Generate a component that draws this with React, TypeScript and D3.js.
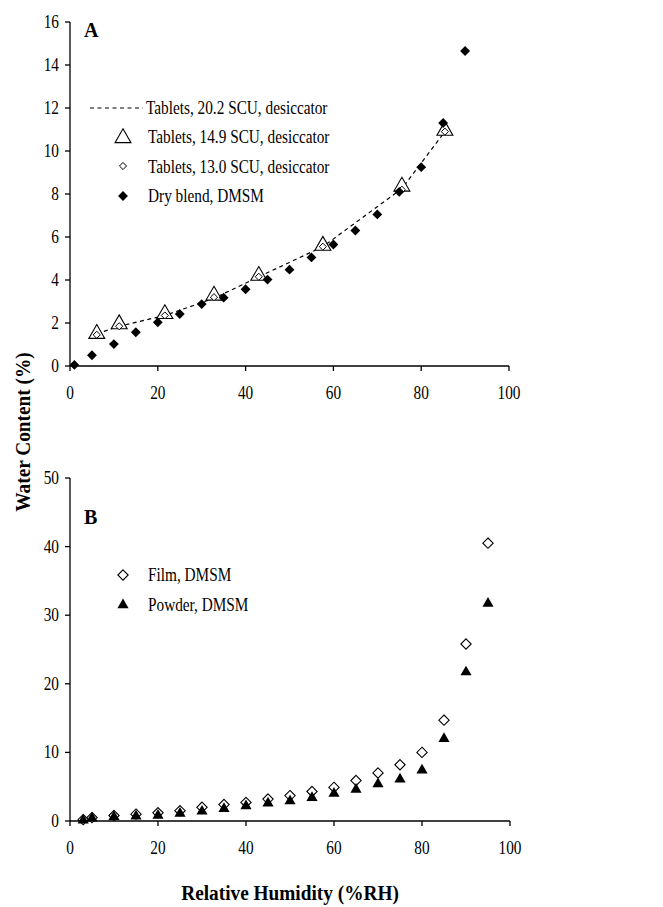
import React, { useEffect, useRef } from 'react';
import * as d3 from 'd3';

// Panel A: water content (%) vs relative humidity (%RH)
const tablets202 = [
    { rh: 6.1, wc: 1.5 }, { rh: 11.2, wc: 1.85 }, { rh: 21.6, wc: 2.35 }, { rh: 32.8, wc: 3.15 },
    { rh: 43, wc: 4.15 }, { rh: 57.6, wc: 5.55 }, { rh: 75.6, wc: 8.25 }, { rh: 85.4, wc: 10.9 }
];
const tablets149 = [
    { rh: 6.1, wc: 1.5 }, { rh: 11.2, wc: 1.95 }, { rh: 21.6, wc: 2.42 }, { rh: 32.8, wc: 3.28 },
    { rh: 43, wc: 4.2 }, { rh: 57.6, wc: 5.6 }, { rh: 75.6, wc: 8.35 }, { rh: 85.4, wc: 10.95 }
];
const tablets130 = [
    { rh: 6.1, wc: 1.45 }, { rh: 11.2, wc: 1.85 }, { rh: 21.6, wc: 2.35 }, { rh: 32.8, wc: 3.2 },
    { rh: 43, wc: 4.15 }, { rh: 57.6, wc: 5.55 }, { rh: 75.6, wc: 8.2 }, { rh: 85.4, wc: 10.9 }
];
const dryBlend = [
    { rh: 1, wc: 0.05 }, { rh: 5, wc: 0.5 }, { rh: 10, wc: 1.02 }, { rh: 15, wc: 1.57 },
    { rh: 20, wc: 2.03 }, { rh: 25, wc: 2.42 }, { rh: 30, wc: 2.88 }, { rh: 35, wc: 3.18 },
    { rh: 40, wc: 3.57 }, { rh: 45, wc: 4.02 }, { rh: 50, wc: 4.48 }, { rh: 55, wc: 5.05 },
    { rh: 60, wc: 5.65 }, { rh: 65, wc: 6.3 }, { rh: 70, wc: 7.05 }, { rh: 75, wc: 8.1 },
    { rh: 80, wc: 9.25 }, { rh: 85, wc: 11.3 }, { rh: 90, wc: 14.65 }
];

// Panel B
const bRH = [3, 5, 10, 15, 20, 25, 30, 35, 40, 45, 50, 55, 60, 65, 70, 75, 80, 85, 90, 95];
const filmWC = [0.2, 0.5, 0.8, 1.0, 1.2, 1.5, 2.0, 2.4, 2.7, 3.2, 3.7, 4.3, 4.9, 5.9, 7.0, 8.2, 10.0, 14.7, 25.8, 40.5];
const powderWC = [0.1, 0.4, 0.6, 0.7, 0.8, 1.1, 1.4, 1.8, 2.2, 2.6, 2.9, 3.4, 4.0, 4.6, 5.4, 6.1, 7.4, 12.0, 21.7, 31.7];

const xTicks = [0, 20, 40, 60, 80, 100];
const yTicksA = [0, 2, 4, 6, 8, 10, 12, 14, 16];
const yTicksB = [0, 10, 20, 30, 40, 50];

const legendA = [
    'Tablets, 20.2 SCU, desiccator',
    'Tablets, 14.9 SCU, desiccator',
    'Tablets, 13.0 SCU, desiccator',
    'Dry blend, DMSM'
];
const legendB = ['Film, DMSM', 'Powder, DMSM'];

const FONT = '"Liberation Serif", "Times New Roman", serif';

// condensed, tall-looking serif text
function label(g, x, y, txt, anchor = 'start') {
    return g.append('text')
        .attr('transform', `translate(${x}, ${y}) scale(0.85, 1)`)
        .attr('text-anchor', anchor)
        .style('font-family', FONT)
        .style('font-size', '18px')
        .text(txt);
}

function WaterChart() {
    const ref = useRef<SVGSVGElement>(null);

    useEffect(() => {
        drawChart();
    });

    function drawAxes(g, x, y, ticksY) {
        const [x0, x1] = x.range();
        const [y0, y1] = y.range();
        g.append('line')
            .attr('x1', x0).attr('x2', x1).attr('y1', y0).attr('y2', y0)
            .attr('stroke', '#000').attr('stroke-width', 1.3);
        g.append('line')
            .attr('x1', x0).attr('x2', x0).attr('y1', y0).attr('y2', y1)
            .attr('stroke', '#000').attr('stroke-width', 1.3);

        g.selectAll()
            .data(xTicks)
            .enter()
            .append('line')
            .attr('x1', d => x(d)).attr('x2', d => x(d))
            .attr('y1', y0).attr('y2', y0 + 5)
            .attr('stroke', '#000').attr('stroke-width', 1.3);
        xTicks.forEach(d => label(g, x(d), y0 + 33, d, 'middle'));

        g.selectAll()
            .data(ticksY)
            .enter()
            .append('line')
            .attr('x1', x0 - 5).attr('x2', x0)
            .attr('y1', d => y(d)).attr('y2', d => y(d))
            .attr('stroke', '#000').attr('stroke-width', 1.3);
        ticksY.forEach(d => label(g, x0 - 11, y(d) + 6, d, 'end'));
    }

    function drawChart() {
        const svg = d3.select(ref.current);
        svg.selectAll('*').remove();

        const xA = d3.scaleLinear().domain([0, 100]).range([70, 509]);
        const yA = d3.scaleLinear().domain([0, 16]).range([366, 22]);
        const xB = d3.scaleLinear().domain([0, 100]).range([70, 510]);
        const yB = d3.scaleLinear().domain([0, 50]).range([821, 478]);

        const gA = svg.append('g');
        const gB = svg.append('g');
        drawAxes(gA, xA, yA, yTicksA);
        drawAxes(gB, xB, yB, yTicksB);

        const tri = d3.symbol(d3.symbolTriangle, 110);
        const smallDia = d3.symbol(d3.symbolDiamond2, 32);
        const fillDia = d3.symbol(d3.symbolDiamond2, 62);
        const openDia = d3.symbol(d3.symbolDiamond2, 68);
        const fillTri = d3.symbol(d3.symbolTriangle, 54);

        // Panel A series
        const line = d3.line().x(d => xA(d.rh)).y(d => yA(d.wc));
        gA.append('path')
            .attr('d', line(tablets202))
            .attr('fill', 'none')
            .attr('stroke', '#000')
            .attr('stroke-width', 1.2)
            .attr('stroke-dasharray', '4,3.5');

        gA.selectAll()
            .data(tablets149)
            .enter()
            .append('path')
            .attr('d', tri)
            .attr('transform', d => `translate(${xA(d.rh)}, ${yA(d.wc)})`)
            .style('fill', '#fff')
            .style('stroke', '#000')
            .style('stroke-width', 1.1);

        gA.selectAll()
            .data(tablets130)
            .enter()
            .append('path')
            .attr('d', smallDia)
            .attr('transform', d => `translate(${xA(d.rh)}, ${yA(d.wc)})`)
            .style('fill', '#fff')
            .style('stroke', '#000')
            .style('stroke-width', 1);

        gA.selectAll()
            .data(dryBlend)
            .enter()
            .append('path')
            .attr('d', fillDia)
            .attr('transform', d => `translate(${xA(d.rh)}, ${yA(d.wc)})`)
            .style('fill', '#000');

        // Panel A legend
        const legA = gA.append('g');
        legA.append('line')
            .attr('x1', 90).attr('x2', 143).attr('y1', 108).attr('y2', 108)
            .attr('stroke', '#000').attr('stroke-width', 1.2)
            .attr('stroke-dasharray', '4,3.5');
        legA.append('path').attr('d', tri).attr('transform', 'translate(123, 138)')
            .style('fill', '#fff').style('stroke', '#000').style('stroke-width', 1.1);
        legA.append('path').attr('d', smallDia).attr('transform', 'translate(123, 166)')
            .style('fill', '#fff').style('stroke', '#000').style('stroke-width', 1);
        legA.append('path').attr('d', fillDia).attr('transform', 'translate(123, 196)')
            .style('fill', '#000');
        legendA.forEach((d, i) => label(legA, i === 0 ? 146 : 148, 114 + i * 29.3, d));

        // Panel B series
        const film = bRH.map((rh, i) => ({ rh, wc: filmWC[i] }));
        const powder = bRH.map((rh, i) => ({ rh, wc: powderWC[i] }));

        gB.selectAll()
            .data(film)
            .enter()
            .append('path')
            .attr('d', openDia)
            .attr('transform', d => `translate(${xB(d.rh)}, ${yB(d.wc)})`)
            .style('fill', '#fff')
            .style('stroke', '#000')
            .style('stroke-width', 1.1);

        gB.selectAll()
            .data(powder)
            .enter()
            .append('path')
            .attr('d', fillTri)
            .attr('transform', d => `translate(${xB(d.rh)}, ${yB(d.wc)})`)
            .style('fill', '#000');

        // Panel B legend
        gB.append('path').attr('d', openDia).attr('transform', 'translate(123, 575)')
            .style('fill', '#fff').style('stroke', '#000').style('stroke-width', 1.1);
        gB.append('path').attr('d', fillTri).attr('transform', 'translate(123, 605)')
            .style('fill', '#000');
        legendB.forEach((d, i) => label(gB, 148, 581 + i * 30, d));

        // Panel letters
        svg.append('text').attr('x', 84).attr('y', 37)
            .style('font-family', FONT).style('font-size', '20px').style('font-weight', 'bold')
            .text('A');
        svg.append('text').attr('x', 84).attr('y', 524)
            .style('font-family', FONT).style('font-size', '20px').style('font-weight', 'bold')
            .text('B');

        // Axis titles
        svg.append('text')
            .attr('transform', 'translate(290, 900) scale(0.92, 1)')
            .attr('text-anchor', 'middle')
            .style('font-family', FONT).style('font-size', '21px').style('font-weight', 'bold')
            .text('Relative Humidity (%RH)');
        svg.append('text')
            .attr('transform', 'translate(30, 432) rotate(-90) scale(0.92, 1)')
            .attr('text-anchor', 'middle')
            .style('font-family', FONT).style('font-size', '21px').style('font-weight', 'bold')
            .text('Water Content (%)');
    }

    return (
        <svg
            ref={ref}
            width={663}
            height={907}
            style={{ position: 'absolute', left: 0, top: 0, background: '#fff' }}
        />
    );
}

export default function App() {
    return <WaterChart />;
}
